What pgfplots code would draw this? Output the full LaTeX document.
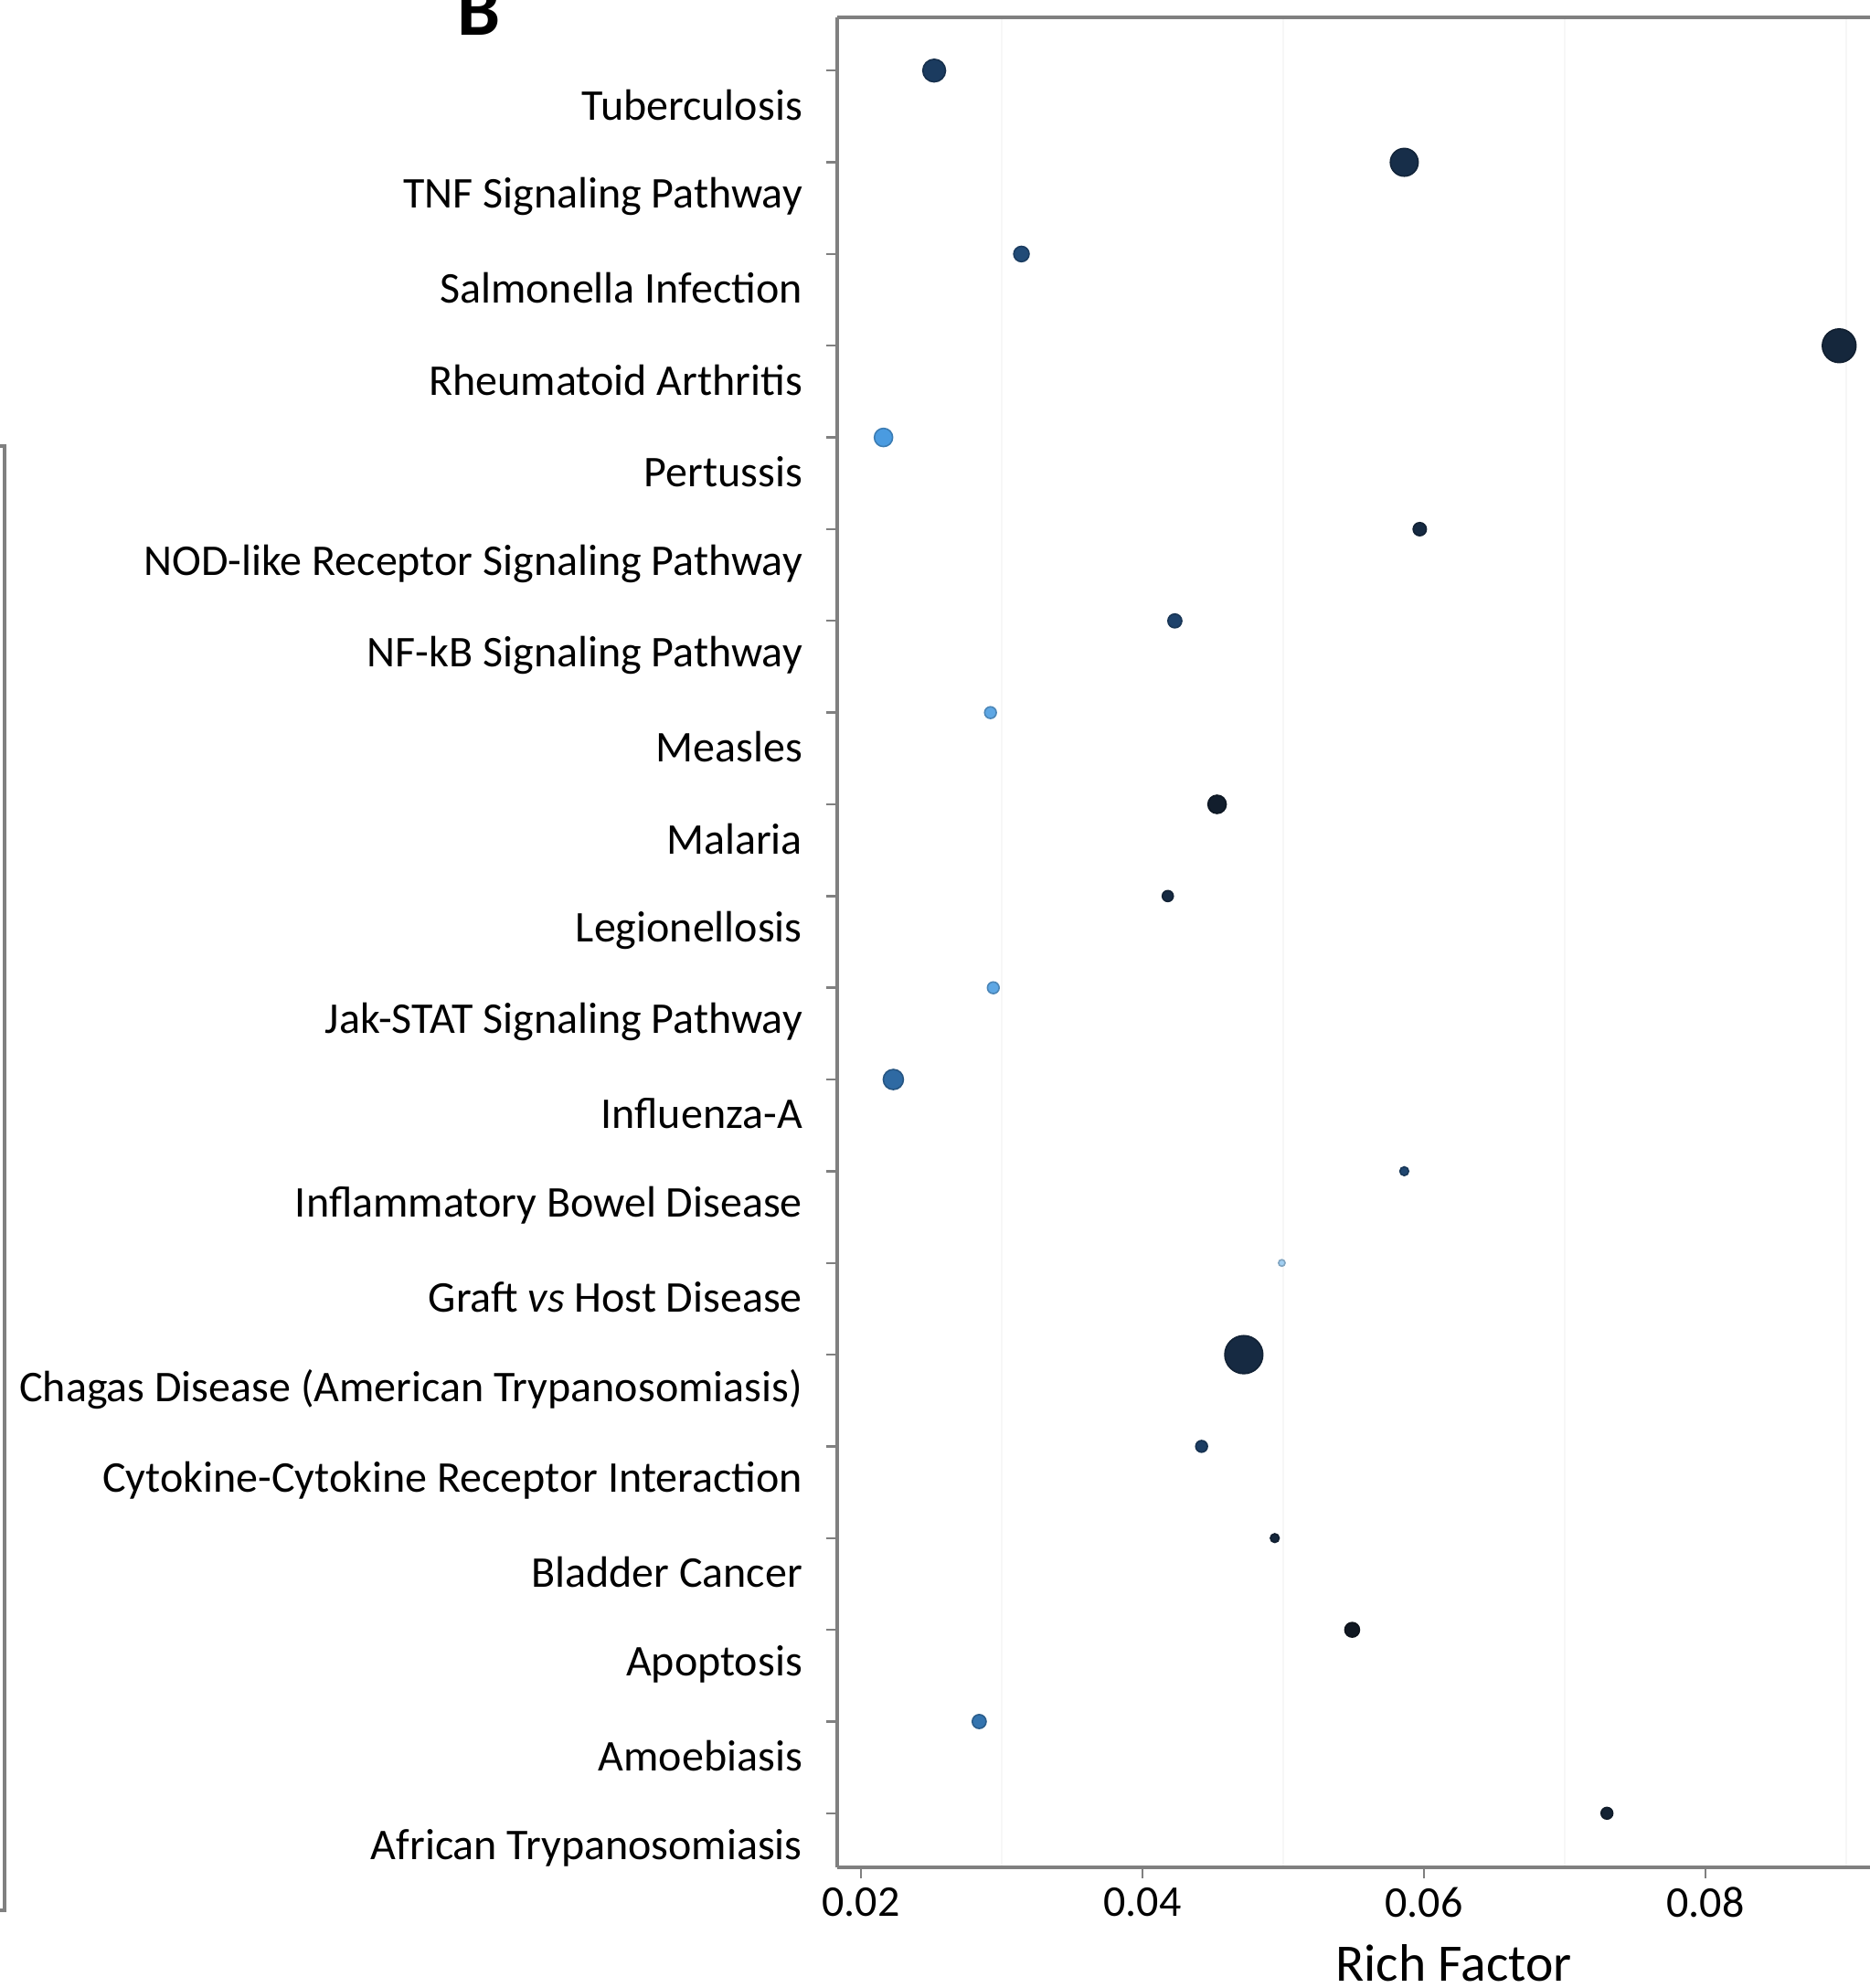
\documentclass[border=0pt]{standalone}
\usepackage{pgfplots}
\usepackage{pgfplotstable}
\usepackage{fontspec}
\setmainfont{Carlito}
\pgfplotsset{compat=1.18}
\definecolor{framegray}{RGB}{128,128,128}
\pgfplotstableread{
y x r c
0 0.0252 3.1 0.28
1 0.0586 3.8 0.18
2 0.0314 2.1 0.38
3 0.0895 4.6 0.12
4 0.0216 2.5 0.80
5 0.0597 1.8 0.15
6 0.0423 1.9 0.33
7 0.0292 1.6 0.84
8 0.0453 2.5 0.05
9 0.0418 1.5 0.15
10 0.0294 1.6 0.84
11 0.0223 2.75 0.55
12 0.0586 1.2 0.35
13 0.0499 0.9 0.97
14 0.0472 5.2 0.15
15 0.0442 1.6 0.30
16 0.0494 1.2 0.12
17 0.0549 2.0 0.00
18 0.0284 1.9 0.60
19 0.0730 1.6 0.08
}\richdata
\begin{document}
\begin{tikzpicture}
\begin{axis}[
  at={(229pt,33pt)}, anchor=south west,
  scale only axis, width=282.5pt, height=506pt,
  xmin=0.01831, xmax=0.09169,
  ymin=-0.58, ymax=19.59, y dir=reverse,
  axis x line=box, axis y line=left,
  x axis line style={-, line width=0.9pt, draw=framegray},
  y axis line style={-, line width=0.9pt, draw=framegray},
  scaled x ticks=false,
  xtick={0.02,0.04,0.06,0.08},
  xticklabels={0.02,0.04,0.06,0.08},
  minor xtick={0.03,0.05,0.07,0.09},
  xminorgrids, minor grid style={black!3, line width=0.6pt},
  minor tick length=0pt,
  xtick pos=lower, ytick pos=left,
  tick align=outside,
  major tick length=3pt,
  tick style={framegray, line width=0.6pt},
  ytick={0,...,19},
  yticklabels={Tuberculosis, TNF Signaling Pathway, Salmonella Infection, Rheumatoid Arthritis, Pertussis, NOD-like Receptor Signaling Pathway, NF-kB Signaling Pathway, Measles, Malaria, Legionellosis, Jak-STAT Signaling Pathway, Influenza-A, Inflammatory Bowel Disease, Graft \textit{vs} Host Disease, Chagas Disease (American Trypanosomiasis), Cytokine-Cytokine Receptor Interaction, Bladder Cancer, Apoptosis, Amoebiasis, African Trypanosomiasis},
  yticklabel style={anchor=east, yshift=-9.4pt, xshift=-3pt, font=\fontsize{12}{14}\selectfont},
  xticklabel style={font=\fontsize{12}{14}\selectfont, yshift=1pt},
  /pgf/number format/assume math mode=true,
  xlabel={Rich Factor},
  xlabel style={font=\fontsize{14.4}{16}\selectfont, at={(axis description cs:0.597,0)}, anchor=base, yshift=-31pt},
  colormap={rich}{rgb255(0cm)=(16,24,34); rgb255(3cm)=(28,61,99); rgb255(5.5cm)=(47,106,163); rgb255(8cm)=(74,155,224); rgb255(10cm)=(176,216,245)},
  point meta min=0, point meta max=1,
  clip=false,
]
\addplot[scatter, only marks, mark=*,
  point meta=explicit,
  visualization depends on={\thisrow{r}\as\rad},
  scatter/@pre marker code/.append style={/tikz/mark size=\rad},
] table[x=x, y=y, meta=c] {\richdata};
\end{axis}
\node[font=\fontsize{21}{24}\selectfont\bfseries, anchor=base] at (131pt,534pt) {B};
\draw[framegray, line width=1pt] (0pt,421.75pt) -- (1.25pt,421.75pt) -- (1.25pt,21.25pt) -- (0pt,21.25pt);
\pgfresetboundingbox
\path[use as bounding box] (0pt,0pt) rectangle (511.5pt,543.75pt);
\end{tikzpicture}
\end{document}
